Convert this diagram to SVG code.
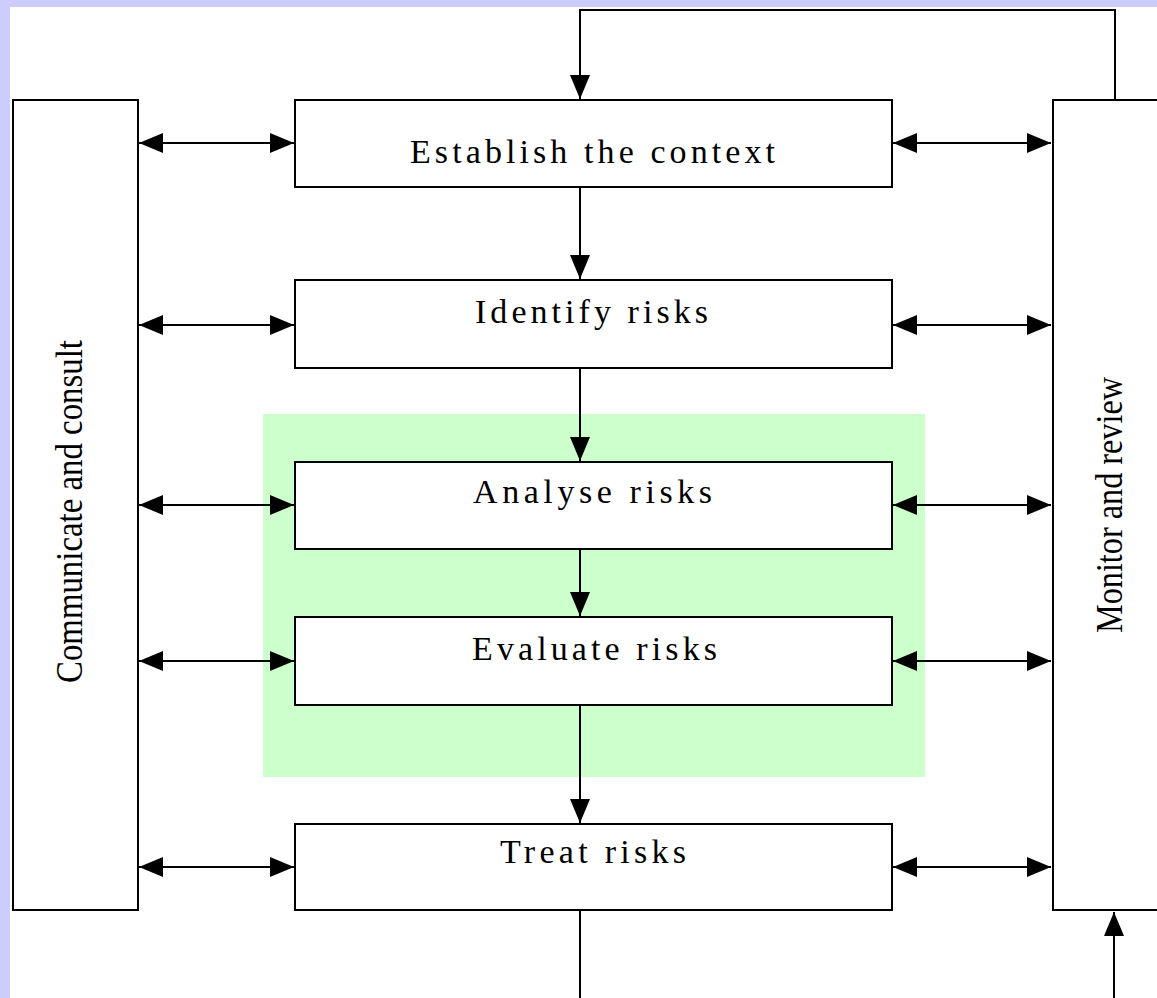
<svg xmlns="http://www.w3.org/2000/svg" width="1157" height="998" viewBox="0 0 1157 998">
<style>
.box{fill:#fff;stroke:#000;stroke-width:2}
.ln{fill:none;stroke:#000;stroke-width:2}
.lbl{font-family:"Liberation Serif","DejaVu Serif",serif;font-size:34px;fill:#000}
.vl{font-family:"Liberation Serif","DejaVu Serif",serif;font-size:38px;fill:#000}
</style>
<defs>
<marker id="ah" markerUnits="userSpaceOnUse" markerWidth="26" markerHeight="22" refX="24" refY="10" orient="auto-start-reverse" viewBox="0 0 26 20">
<path d="M0,0 L24,10 L0,20 Z" fill="#000"/>
</marker>
</defs>
<rect x="0" y="0" width="1157" height="998" fill="#fff"/>
<rect x="0" y="0" width="1157" height="7" fill="#ccccff"/>
<rect x="0" y="0" width="10" height="998" fill="#ccccff"/>
<rect id="green-zone" x="263" y="414" width="662" height="363" fill="#ccffcc"/>

<g id="connectors">
<path class="ln" d="M1115,100 V10 H580 V99" marker-end="url(#ah)"/>
<path class="ln" d="M580,187 V279" marker-end="url(#ah)"/>
<path class="ln" d="M580,368 V461" marker-end="url(#ah)"/>
<path class="ln" d="M580,549 V616" marker-end="url(#ah)"/>
<path class="ln" d="M580,705 V823" marker-end="url(#ah)"/>
<path class="ln" d="M580,910 V998"/>
<path class="ln" d="M1114,998 V912" marker-end="url(#ah)"/>
<path class="ln" d="M139,143 H294" marker-start="url(#ah)" marker-end="url(#ah)"/>
<path class="ln" d="M139,325 H294" marker-start="url(#ah)" marker-end="url(#ah)"/>
<path class="ln" d="M139,505 H294" marker-start="url(#ah)" marker-end="url(#ah)"/>
<path class="ln" d="M139,661 H294" marker-start="url(#ah)" marker-end="url(#ah)"/>
<path class="ln" d="M139,867 H294" marker-start="url(#ah)" marker-end="url(#ah)"/>
<path class="ln" d="M893,143 H1051" marker-start="url(#ah)" marker-end="url(#ah)"/>
<path class="ln" d="M893,325 H1051" marker-start="url(#ah)" marker-end="url(#ah)"/>
<path class="ln" d="M893,505 H1051" marker-start="url(#ah)" marker-end="url(#ah)"/>
<path class="ln" d="M893,661 H1051" marker-start="url(#ah)" marker-end="url(#ah)"/>
<path class="ln" d="M893,867 H1051" marker-start="url(#ah)" marker-end="url(#ah)"/>
</g>

<g id="communicate">
<rect class="box" x="13" y="100" width="125" height="810"/>
<text class="vl" transform="translate(82,683) rotate(-90)" textLength="343" lengthAdjust="spacingAndGlyphs">Communicate and consult</text>
</g>
<g id="monitor">
<rect class="box" x="1053" y="100" width="120" height="810"/>
<text class="vl" transform="translate(1122,633) rotate(-90)" textLength="256" lengthAdjust="spacingAndGlyphs">Monitor and review</text>
</g>
<g id="establish">
<rect class="box" x="295" y="100" width="597" height="87"/>
<text class="lbl" x="410" y="163" textLength="365">Establish the context</text>
</g>
<g id="identify">
<rect class="box" x="295" y="280" width="597" height="88"/>
<text class="lbl" x="475" y="323" textLength="233">Identify risks</text>
</g>
<g id="analyse">
<rect class="box" x="295" y="462" width="597" height="87"/>
<text class="lbl" x="473" y="503" textLength="239">Analyse risks</text>
</g>
<g id="evaluate">
<rect class="box" x="295" y="617" width="597" height="88"/>
<text class="lbl" x="472" y="660" textLength="245">Evaluate risks</text>
</g>
<g id="treat">
<rect class="box" x="295" y="824" width="597" height="86"/>
<text class="lbl" x="500" y="863" textLength="186">Treat risks</text>
</g>
</svg>
